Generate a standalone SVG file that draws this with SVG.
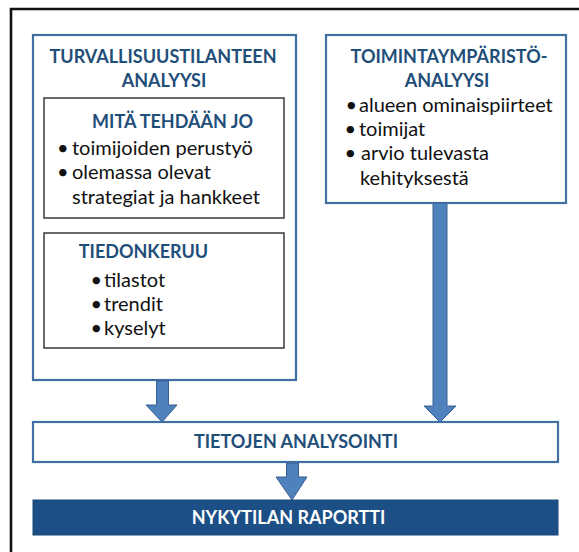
<svg xmlns="http://www.w3.org/2000/svg" width="579" height="552" viewBox="0 0 579 552">
<defs>
<style>
.blue{fill:#fff;stroke:#3f6fa3;stroke-width:2.2}
.inner{fill:#fff;stroke:#2b2b2b;stroke-width:1.4}
.ttl{font-family:Lato,"Open Sans",sans-serif;font-weight:bold;font-size:18px;fill:#1f4e79;text-anchor:middle}
.body{font-family:Lato,"Open Sans",sans-serif;font-size:20px;fill:#111}
.arr{fill:#4f81bd;stroke:#385f92;stroke-width:1}
</style>
</defs>
<rect width="579" height="552" fill="#fff"/>
<path d="M11 552 V9 H579" fill="none" stroke="#111" stroke-width="2.6"/>
<g id="turvallisuus">
<rect class="blue" x="33" y="35" width="263" height="345"/>
<text class="ttl" x="163" y="63">TURVALLISUUSTILANTEEN</text>
<text class="ttl" x="164" y="87">ANALYYSI</text>
</g>
<g id="mita-tehdaan">
<rect class="inner" x="44" y="98" width="240" height="120"/>
<text class="ttl" x="172.5" y="128">MITÄ TEHDÄÄN JO</text>
<text class="body" y="155"><tspan x="57">•</tspan><tspan x="72">toimijoiden perustyö</tspan></text>
<text class="body" y="179"><tspan x="57">•</tspan><tspan x="72">olemassa olevat</tspan></text>
<text class="body" x="72" y="204">strategiat ja hankkeet</text>
</g>
<g id="tiedonkeruu">
<rect class="inner" x="44" y="233" width="240" height="115"/>
<text class="ttl" x="143.5" y="258">TIEDONKERUU</text>
<text class="body" y="287"><tspan x="90.5">•</tspan><tspan x="104">tilastot</tspan></text>
<text class="body" y="311"><tspan x="90.5">•</tspan><tspan x="104">trendit</tspan></text>
<text class="body" y="335"><tspan x="90.5">•</tspan><tspan x="104">kyselyt</tspan></text>
</g>
<g id="toimintaymparisto">
<rect class="blue" x="326" y="35" width="240" height="168"/>
<text class="ttl" x="449" y="63">TOIMINTAYMPÄRISTÖ-</text>
<text class="ttl" x="447" y="87">ANALYYSI</text>
<text class="body" y="112"><tspan x="345.5">•</tspan><tspan x="359">alueen ominaispiirteet</tspan></text>
<text class="body" y="136"><tspan x="344.5">•</tspan><tspan x="359">toimijat</tspan></text>
<text class="body" y="160"><tspan x="344.5">•</tspan><tspan x="361">arvio tulevasta</tspan></text>
<text class="body" x="360" y="185">kehityksestä</text>
</g>
<g id="connectors">
<polygon class="arr" points="156.5,381 168.5,381 168.5,405 177,405 162,422 146,405 156.5,405"/>
<polygon class="arr" points="433,203 447,203 447,406 456,406 440,422 424,406 433,406"/>
<polygon class="arr" points="286.5,463 298.5,463 298.5,477 307,477 292,500 276,477 286.5,477"/>
</g>
<g id="tietojen-analysointi">
<rect class="blue" x="33" y="422" width="525" height="40"/>
<text class="ttl" x="296" y="448">TIETOJEN ANALYSOINTI</text>
</g>
<g id="nykytilan-raportti">
<rect x="33" y="500" width="525" height="35" fill="#1c4f86" stroke="#1a4878" stroke-width="1"/>
<text class="ttl" x="288.5" y="524" style="fill:#fff">NYKYTILAN RAPORTTI</text>
</g>
</svg>
